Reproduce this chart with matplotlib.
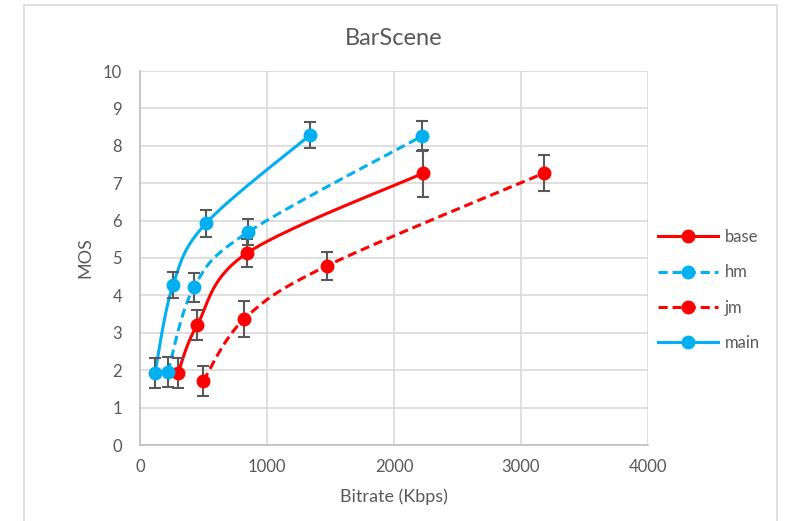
import numpy as np
import matplotlib
matplotlib.use("Agg")
import matplotlib.pyplot as plt
from matplotlib.patches import Rectangle

plt.rcParams['font.family'] = ['Lato', 'DejaVu Sans']

# data
base_x = [300, 450, 842, 2230]
base_y = [1.93, 3.21, 5.13, 7.27]
base_err = [0.40, 0.39, 0.37, 0.63]

hm_x = [220, 425, 850, 2220]
hm_y = [1.95, 4.22, 5.69, 8.26]
hm_err = [0.41, 0.39, 0.35, 0.40]

jm_x = [497, 821, 1472, 3181]
jm_y = [1.71, 3.37, 4.79, 7.27]
jm_err = [0.39, 0.47, 0.38, 0.48]

main_x = [118, 260, 520, 1339]
main_y = [1.93, 4.28, 5.93, 8.29]
main_err = [0.40, 0.34, 0.36, 0.35]

series = [
    ("base", base_x, base_y, base_err, "#ff0000", "-"),
    ("hm", hm_x, hm_y, hm_err, "#00b0f0", (0, (3, 1.6))),
    ("jm", jm_x, jm_y, jm_err, "#ff0000", (0, (3, 1.6))),
    ("main", main_x, main_y, main_err, "#00b0f0", "-"),
]

XMAX, YMAX = 4000, 10
grey = "#595959"


def smooth(xs, ys, n=40):
    # excel-style smoothed line: cubic bezier through points, done in axes-fraction space
    w, h = 508.0, 374.0
    p = np.column_stack([np.array(xs) / XMAX * w, np.array(ys) / YMAX * h])
    out = [p[0]]
    t = np.linspace(0, 1, n)[1:, None]
    for i in range(len(p) - 1):
        p0 = p[i - 1] if i > 0 else p[i]
        p3 = p[i + 2] if i + 2 < len(p) else p[i + 1]
        c1 = p[i] + (p[i + 1] - p0) / 6
        c2 = p[i + 1] - (p3 - p[i]) / 6
        seg = ((1 - t) ** 3 * p[i] + 3 * (1 - t) ** 2 * t * c1
               + 3 * (1 - t) * t ** 2 * c2 + t ** 3 * p[i + 1])
        out.extend(seg)
    out = np.array(out)
    return out[:, 0] / w * XMAX, out[:, 1] / h * YMAX


fig = plt.figure(figsize=(7.85, 5.21), dpi=100)
ax = fig.add_axes([140 / 785, 1 - 445 / 521, 508 / 785, 374 / 521])

fig.patches.append(Rectangle((24 / 785, -0.05), 753 / 785, 1 - 5 / 521 + 0.05,
                             transform=fig.transFigure, fill=False,
                             edgecolor="#d9d9d9", linewidth=1.2))

for name, xs, ys, err, col, ls in series:
    sx, sy = smooth(xs, ys)
    ax.plot(sx, sy, color=col, linestyle=ls, linewidth=2.2, zorder=3)
    ax.errorbar(xs, ys, yerr=err, fmt="none", ecolor=grey, elinewidth=1.5,
                capsize=4, capthick=1.5, zorder=4)
    ax.plot(xs, ys, "o", color=col, markersize=9, zorder=5)
    ax.plot([], [], color=col, linestyle=ls, linewidth=2.2, marker="o",
            markersize=9, label=name)

ax.set_xlim(0, XMAX)
ax.set_ylim(0, YMAX)
ax.set_xticks(np.arange(0, 4001, 1000))
ax.set_yticks(np.arange(0, 11, 1))
ax.grid(True, color="#d9d9d9", linewidth=1.2)
ax.set_axisbelow(True)
for s in ["top", "right"]:
    ax.spines[s].set_visible(False)
for s in ["left", "bottom"]:
    ax.spines[s].set_color("#bfbfbf")
    ax.spines[s].set_linewidth(1.2)
ax.tick_params(length=0, labelsize=12, colors=grey)
ax.tick_params(axis="x", pad=10)
ax.tick_params(axis="y", pad=13)

ax.set_title("BarScene", fontsize=17, color=grey, pad=19)
ax.set_xlabel("Bitrate (Kbps)", fontsize=13, color=grey, labelpad=10)
ax.set_ylabel("MOS", fontsize=13, color=grey, labelpad=7)

fig.legend(loc="center left", bbox_to_anchor=(643 / 785, 1 - 290 / 521),
           frameon=False, fontsize=12, labelcolor=grey, handlelength=3.6,
           labelspacing=1.15, handletextpad=0.4)

fig.savefig("out.png", dpi=100)
